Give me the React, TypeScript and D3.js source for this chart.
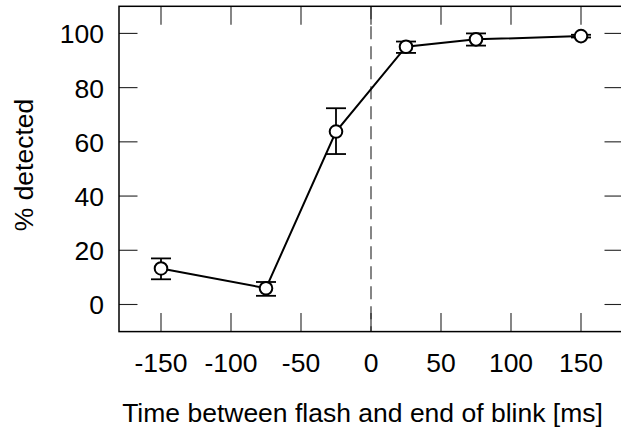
import React from "react";
import * as d3 from "d3";

const timeMs = [-150, -75, -25, 25, 75, 150];
const pctDetected = [13.3, 6.0, 63.8, 95.1, 97.8, 99.0];
const errUpper = [17.0, 8.3, 72.4, 97.0, 100.0, 99.5];
const errLower = [9.3, 3.2, 55.5, 92.8, 95.5, 98.5];
const xTicks = [-150, -100, -50, 0, 50, 100, 150];
const yTicks = [0, 20, 40, 60, 80, 100];
const xTitle = "Time between flash and end of blink [ms]";
const yTitle = "% detected";

const W = 621;
const H = 436;
const FONT = "'Liberation Sans', Arial, Helvetica, sans-serif";
const FS = 26.5;

export default function App() {
  const left = 119;
  const right = 623;
  const top = 6.3;
  const bottom = 331.6;
  const x = d3.scaleLinear().domain([-180, 180]).range([left, right]);
  const y = d3.scaleLinear().domain([-10, 110]).range([bottom, top]);
  const tickLen = 18.5;

  const pts = timeMs.map((t, i) => ({ t, v: pctDetected[i], hi: errUpper[i], lo: errLower[i] }));
  const line = d3
    .line<{ t: number; v: number }>()
    .x((d) => x(d.t))
    .y((d) => y(d.v));

  const cap = 10;

  return (
    <svg
      width={W}
      height={H}
      viewBox={`0 0 ${W} ${H}`}
      style={{ position: "absolute", left: 0, top: 0, background: "#fff" }}
      fontFamily={FONT}
    >
      <rect x={0} y={0} width={W} height={H} fill="#fff" />
      {/* dashed zero line */}
      <line
        x1={x(0)}
        x2={x(0)}
        y1={top}
        y2={bottom}
        stroke="#222"
        strokeWidth={1.1}
        strokeDasharray="13,7"
      />
      {/* ticks, all four sides, inward */}
      {xTicks.map((t) => (
        <g key={"xt" + t} stroke="#222" strokeWidth={1.1}>
          <line x1={x(t)} x2={x(t)} y1={bottom} y2={bottom - tickLen} />
          <line x1={x(t)} x2={x(t)} y1={top} y2={top + tickLen} />
        </g>
      ))}
      {yTicks.map((t) => (
        <g key={"yt" + t} stroke="#222" strokeWidth={1.1}>
          <line x1={left} x2={left + tickLen} y1={y(t)} y2={y(t)} />
          <line x1={right} x2={right - tickLen} y1={y(t)} y2={y(t)} />
        </g>
      ))}
      {/* frame */}
      <rect
        x={left}
        y={top}
        width={right - left}
        height={bottom - top}
        fill="none"
        stroke="#000"
        strokeWidth={1.5}
      />
      {/* tick labels */}
      {xTicks.map((t) => (
        <text key={"xl" + t} x={x(t)} y={371.5} textAnchor="middle" fontSize={FS} fill="#000">
          {t}
        </text>
      ))}
      {yTicks.map((t) => (
        <text key={"yl" + t} x={104} y={y(t) + 10} textAnchor="end" fontSize={FS} fill="#000">
          {t}
        </text>
      ))}
      {/* axis titles */}
      <text x={362.5} y={421.5} textAnchor="middle" fontSize={FS} fill="#000">
        {xTitle}
      </text>
      <text
        transform={`translate(33,165) rotate(-90)`}
        textAnchor="middle"
        fontSize={FS}
        fill="#000"
      >
        {yTitle}
      </text>
      {/* error bars */}
      {pts.map((d) => (
        <g key={"eb" + d.t} stroke="#000" strokeWidth={1.8}>
          <line x1={x(d.t)} x2={x(d.t)} y1={y(d.lo)} y2={y(d.hi)} />
          <line x1={x(d.t) - cap} x2={x(d.t) + cap} y1={y(d.hi)} y2={y(d.hi)} />
          <line x1={x(d.t) - cap} x2={x(d.t) + cap} y1={y(d.lo)} y2={y(d.lo)} />
        </g>
      ))}
      {/* connecting line */}
      <path d={line(pts) || ""} fill="none" stroke="#000" strokeWidth={2} />
      {/* points */}
      {pts.map((d) => (
        <circle
          key={"pt" + d.t}
          cx={x(d.t)}
          cy={y(d.v)}
          r={6.3}
          fill="#fff"
          stroke="#000"
          strokeWidth={2}
        />
      ))}
    </svg>
  );
}
